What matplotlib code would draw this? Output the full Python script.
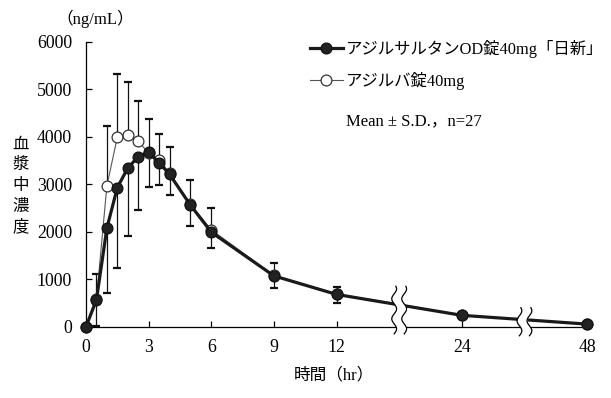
import numpy as np
import matplotlib
matplotlib.use("Agg")
import matplotlib.pyplot as plt

plt.rcParams['font.family'] = ['Liberation Serif', 'Noto Sans CJK JP']

# sampling times (hr) and plasma concentration (ng/mL)
time_h = [0, 0.5, 1, 1.5, 2, 2.5, 3, 3.5, 4, 5, 6, 9, 12, 24, 48]
od_mean = [0, 570, 2080, 2930, 3340, 3580, 3680, 3450, 3210, 2560, 1990, 1070, 680, 240, 55]
od_sd = [0, 556, 1375, 1684, 1424, 1130, 744, 460, 435, 435, 327, 246, 177, 70, 20]
ref_mean = [0, 585, 2970, 3990, 4030, 3910, 3650, 3520, 3230, 2580, 2040, 1080, 690, 245, 58]
ref_sd = [0, 525, 1260, 1320, 1130, 835, 730, 545, 550, 515, 465, 255, 152, 70, 20]

tick_hours = [0, 3, 6, 9, 12, 24, 48]
break_hours = [18, 36]
label_od = 'アジルサルタンOD錠40mg「日新」'
label_ref = 'アジルバ錠40mg'


def to_pos(t):
    # compressed axis: 0-12 linear, 12->24 and 24->48 squeezed
    return np.interp(t, [0, 12, 24, 48], [0, 12, 18, 24])


x = to_pos(time_h)
zeros = np.zeros(len(time_h))

fig = plt.figure(figsize=(6.11, 3.98), dpi=100)
ax = fig.add_axes([0.1408, 0.1791, 0.82, 0.7161])

# error bars: reference upward, OD tablet downward
ax.errorbar(x, ref_mean, yerr=[zeros, ref_sd], fmt='none', ecolor='#111111',
            elinewidth=0.9, capsize=2.6, capthick=1.6, zorder=2, clip_on=False)
ax.errorbar(x, od_mean, yerr=[od_sd, zeros], fmt='none', ecolor='#111111',
            elinewidth=0.9, capsize=2.6, capthick=1.6, zorder=2, clip_on=False)

ax.plot(x, ref_mean, color='#555555', lw=0.8, marker='o', ms=7.8,
        mfc='white', mec='#333333', mew=0.9, label=label_ref, zorder=3, clip_on=False)
ax.plot(x, od_mean, color='#1a1a1a', lw=2.3, marker='o', ms=7.8,
        mfc='#222222', mec='#111111', mew=0.9, label=label_od, zorder=4, clip_on=False)

ax.set_xlim(0, 24)
ax.set_ylim(0, 6000)
ax.set_xticks(to_pos(tick_hours))
ax.set_xticklabels([str(t) for t in tick_hours])
ax.set_yticks(range(0, 6001, 1000))
ax.tick_params(axis='both', direction='in', length=4, width=0.9, labelsize=12.8)
ax.tick_params(axis='x', pad=8.5)
ax.tick_params(axis='y', pad=10)
for s in ['top', 'right']:
    ax.spines[s].set_visible(False)
for s in ['left', 'bottom']:
    ax.spines[s].set_linewidth(0.9)

# axis break marks
px_x = 501 / 24.0
px_y = 285 / 6000.0
gap = 5 / px_x
amp = 2.4 / px_x
for bh, (y0, y1) in zip(break_hours, [(-150, 850), (-190, 400)]):
    xb = to_pos(bh)
    yy = np.linspace(y0, y1, 80)
    wave = amp * np.sin(2 * np.pi * (yy - y0) * px_y / 20.0)
    xl = xb - gap + wave
    xr = xb + gap + wave
    ax.fill_betweenx(yy, xl, xr, color='white', zorder=5, clip_on=False, lw=0)
    ax.plot(xl, yy, color='black', lw=0.9, zorder=6, clip_on=False)
    ax.plot(xr, yy, color='black', lw=0.9, zorder=6, clip_on=False)

handles, labels = ax.get_legend_handles_labels()
leg = fig.legend(handles[::-1], labels[::-1], loc='upper left',
                 bbox_to_anchor=(310 / 611, 1 - 40 / 398), frameon=False,
                 fontsize=11.8, handlelength=2.0, handletextpad=0.2,
                 labelspacing=0.85, borderpad=0, borderaxespad=0)

fig.text(346.5 / 611, 1 - 121 / 398, 'Mean ± S.D.，n=27', fontsize=12,
         ha='left', va='center')
fig.text(95 / 611, 1 - 19 / 398, '（ng/mL）', fontsize=12, ha='center', va='center')
fig.text(21 / 611, 1 - 186 / 398, '血\n漿\n中\n濃\n度', fontsize=11.8,
         ha='center', va='center', linespacing=1.4)
fig.text(334 / 611, 1 - 375 / 398, '時間（hr）', fontsize=12, ha='center', va='center')

fig.savefig('out.png', dpi=100)
